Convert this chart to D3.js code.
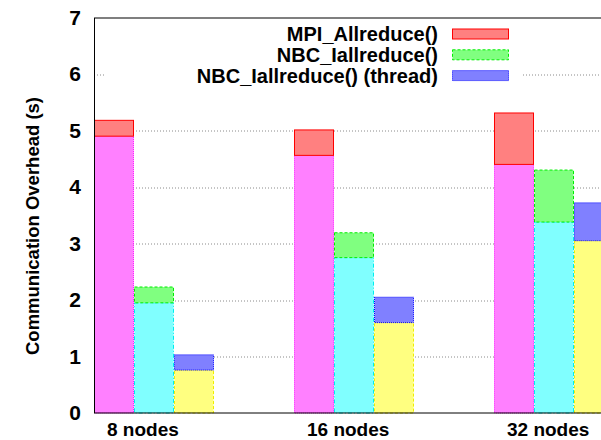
<!DOCTYPE html>
<html>
<head>
<meta charset="utf-8">
<script src="https://cdn.jsdelivr.net/npm/d3@7"></script>
<style>
  body { margin: 0; background: #fff; }
  svg { display: block; font-family: "Liberation Sans", Arial, Helvetica, sans-serif; }
</style>
</head>
<body>
<div id="chart"></div>
<script>
// Data (seconds)
const groups = ['8 nodes', '16 nodes', '32 nodes'];
const seriesNames = ['MPI_Allreduce()', 'NBC_Iallreduce()', 'NBC_Iallreduce() (thread)'];
const mpiBase = [4.90, 4.56, 4.40];
const mpiTotal = [5.18, 5.01, 5.31];
const nbcBase = [1.95, 2.75, 3.38];
const nbcTotal = [2.23, 3.19, 4.30];
const threadBase = [0.76, 1.60, 3.05];
const threadTotal = [1.03, 2.05, 3.72];
const yTicks = [0, 1, 2, 3, 4, 5, 6, 7];

///////// Initialization //////////
const margin = { top: 17.5, right: 0, bottom: 27, left: 94 };
const width = 600;
const height = 440 - margin.top - margin.bottom;

const svg = d3
  .select('#chart')
  .append('svg')
  .attr('width', 601)
  .attr('height', 440);

const group = svg
  .append('g')
  .attr('transform', 'translate(' + margin.left + ',' + margin.top + ')');

// scales
const x0 = d3.scaleBand().domain(groups).range([0, width]).padding(0);
const x1 = d3.scaleBand().domain(seriesNames).range([0, 120]).padding(0);
const yScale = d3.scaleLinear().domain([0, 7]).range([height, 0]);

// line/fill styles per series (gnuplot-like)
const styles = [
  { top: '#ff8080', topStroke: '#ff0000', topDash: null, base: '#ff80ff', baseStroke: '#ff00ff', baseDash: '1,1' },
  { top: '#80ff80', topStroke: '#00ee00', topDash: '3,2', base: '#80ffff', baseStroke: '#00eeee', baseDash: '4,2,1,2' },
  { top: '#8080ff', topStroke: '#0000ff', topDash: '1,1', base: '#ffff80', baseStroke: '#eeee00', baseDash: '3,2' },
];

const table = groups.map((g, i) => ({
  group: g,
  bars: [
    { key: seriesNames[0], base: mpiBase[i], total: mpiTotal[i], s: styles[0] },
    { key: seriesNames[1], base: nbcBase[i], total: nbcTotal[i], s: styles[1] },
    { key: seriesNames[2], base: threadBase[i], total: threadTotal[i], s: styles[2] },
  ],
}));

//////// Grid /////////
group
  .append('g')
  .selectAll('line')
  .data(yTicks.filter((t) => t > 0 && t < 7))
  .enter()
  .append('line')
  .attr('x1', 0)
  .attr('x2', width)
  .attr('y1', (d) => Math.round(yScale(d)) + 0.5)
  .attr('y2', (d) => Math.round(yScale(d)) + 0.5)
  .attr('stroke', '#8a8a8a')
  .attr('stroke-width', 1)
  .attr('stroke-dasharray', '1,2');

//////// Bars /////////
const groupSel = group
  .selectAll('.bar-group')
  .data(table)
  .enter()
  .append('g')
  .attr('class', 'bar-group')
  .attr('transform', (d) => 'translate(' + x0(d.group) + ',0)');

const barSel = groupSel
  .selectAll('.bar')
  .data((d) => d.bars)
  .enter()
  .append('g')
  .attr('class', 'bar');

// lower part
barSel
  .append('rect')
  .attr('x', (d) => x1(d.key) + 0.5)
  .attr('width', x1.bandwidth() - 1)
  .attr('y', (d) => yScale(d.base))
  .attr('height', (d) => yScale(0) - yScale(d.base))
  .attr('fill', (d) => d.s.base)
  .attr('stroke', (d) => d.s.baseStroke)
  .attr('stroke-width', 1)
  .attr('stroke-dasharray', (d) => d.s.baseDash);

// upper part (overhead)
barSel
  .append('rect')
  .attr('x', (d) => x1(d.key) + 0.5)
  .attr('width', x1.bandwidth() - 1)
  .attr('y', (d) => yScale(d.total))
  .attr('height', (d) => yScale(d.base) - yScale(d.total))
  .attr('fill', (d) => d.s.top)
  .attr('stroke', (d) => d.s.topStroke)
  .attr('stroke-width', 1)
  .attr('stroke-dasharray', (d) => d.s.topDash);

//////// Legend /////////
const legend = group.append('g').attr('class', 'legend');
legend
  .append('rect')
  .attr('x', 12)
  .attr('y', 2)
  .attr('width', 415)
  .attr('height', 70)
  .attr('fill', '#fff');

const legendRow = legend
  .selectAll('.row')
  .data(styles.map((s, i) => ({ name: seriesNames[i], s: s })))
  .enter()
  .append('g')
  .attr('class', 'row')
  .attr('transform', (d, i) => 'translate(0,' + (16.5 + i * 20.8) + ')');

legendRow
  .append('text')
  .attr('x', 344)
  .attr('y', 0)
  .attr('dy', '0.35em')
  .attr('text-anchor', 'end')
  .attr('font-size', 20)
  .attr('font-weight', 'bold')
  .attr('fill', '#000')
  .text((d) => d.name);

legendRow
  .append('rect')
  .attr('x', 358.5)
  .attr('y', -5)
  .attr('width', 56)
  .attr('height', 10)
  .attr('fill', (d) => d.s.top)
  .attr('stroke', (d) => d.s.topStroke)
  .attr('stroke-width', 1)
  .attr('stroke-dasharray', (d) => d.s.topDash);

//////// Axes /////////
const yAxis = d3
  .axisLeft(yScale)
  .tickValues(yTicks)
  .tickFormat(d3.format('d'))
  .tickSize(0)
  .tickPadding(13);
const yAxisGroup = group.append('g').attr('class', 'y-axis').call(yAxis);
yAxisGroup.select('.domain').remove();
yAxisGroup
  .selectAll('text')
  .attr('font-size', 21)
  .attr('font-weight', 'bold')
  .attr('font-family', null)
  .attr('fill', '#000');

// x labels start a little after each group's left edge
group
  .append('g')
  .attr('class', 'x-axis')
  .selectAll('text')
  .data(groups)
  .enter()
  .append('text')
  .attr('x', (d) => x0(d) + 13)
  .attr('y', height + 23)
  .attr('font-size', 19)
  .attr('font-weight', 'bold')
  .attr('fill', '#000')
  .text((d) => d);

// frame
group
  .append('rect')
  .attr('x', 0.5)
  .attr('y', 0.5)
  .attr('width', width)
  .attr('height', height - 0.5)
  .attr('fill', 'none')
  .attr('stroke', '#000')
  .attr('stroke-width', 1);

// y label
svg
  .append('text')
  .attr('transform', 'translate(39,' + 226 + ') rotate(-90)')
  .attr('text-anchor', 'middle')
  .attr('font-size', 18.5)
  .attr('font-weight', 'bold')
  .attr('fill', '#000')
  .text('Communication Overhead (s)');
</script>
</body>
</html>
